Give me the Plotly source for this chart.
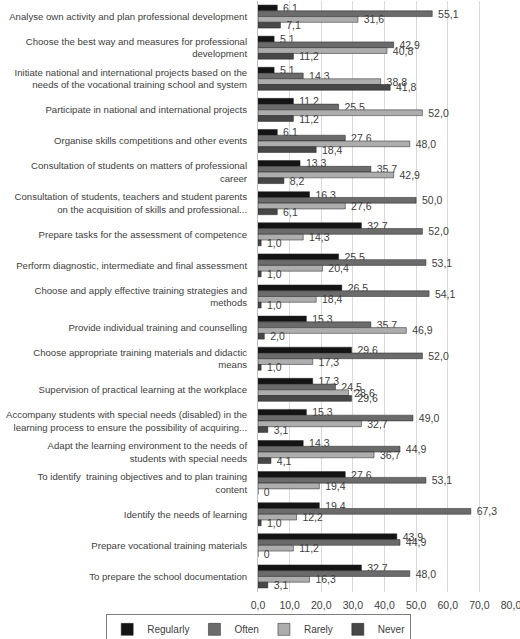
import plotly.graph_objects as go

# categories (top to bottom)
categories = [
    "Analyse own activity and plan professional development",
    "Choose the best way and measures for professional<br>development",
    "Initiate national and international projects based on the<br>needs of the vocational training school and system",
    "Participate in national and international projects",
    "Organise skills competitions and other events",
    "Consultation of students on matters of professional<br>career",
    "Consultation of students, teachers and student parents<br>on the acquisition of skills and professional...",
    "Prepare tasks for the assessment of competence",
    "Perform diagnostic, intermediate and final assessment",
    "Choose and apply effective training strategies and<br>methods",
    "Provide individual training and counselling",
    "Choose appropriate training materials and didactic<br>means",
    "Supervision of practical learning at the workplace",
    "Accompany students with special needs (disabled) in the<br>learning process to ensure the possibility of acquiring...",
    "Adapt the learning environment to the needs of<br>students with special needs",
    "To identify  training objectives and to plan training<br>content",
    "Identify the needs of learning",
    "Prepare vocational training materials",
    "To prepare the school documentation",
]

regularly = [6.1, 5.1, 5.1, 11.2, 6.1, 13.3, 16.3, 32.7, 25.5, 26.5, 15.3, 29.6, 17.3, 15.3, 14.3, 27.6, 19.4, 43.9, 32.7]
often = [55.1, 42.9, 14.3, 25.5, 27.6, 35.7, 50.0, 52.0, 53.1, 54.1, 35.7, 52.0, 24.5, 49.0, 44.9, 53.1, 67.3, 44.9, 48.0]
rarely = [31.6, 40.8, 38.8, 52.0, 48.0, 42.9, 27.6, 14.3, 20.4, 18.4, 46.9, 17.3, 28.6, 32.7, 36.7, 19.4, 12.2, 11.2, 16.3]
never = [7.1, 11.2, 41.8, 11.2, 18.4, 8.2, 6.1, 1.0, 1.0, 1.0, 2.0, 1.0, 29.6, 3.1, 4.1, 0, 1.0, 0, 3.1]

x_ticks = [0, 10, 20, 30, 40, 50, 60, 70, 80]

series = [
    ("Regularly", regularly, "#141414"),
    ("Often", often, "#6b6b6b"),
    ("Rarely", rarely, "#adadad"),
    ("Never", never, "#474747"),
]


def fmt(v):
    # comma decimals, zero shown as plain 0
    if v == 0:
        return "0"
    return f"{v:.1f}".replace(".", ",")


fig = go.Figure()
for name, vals, col in series:
    fig.add_trace(go.Bar(
        y=categories,
        x=vals,
        name=name,
        orientation="h",
        marker=dict(color=col, line=dict(color="#222222", width=0.5)),
        text=["  " + fmt(v) for v in vals],
        textposition="outside",
        textfont=dict(size=10.5, color="#404040"),
        constraintext="none",
        cliponaxis=False,
    ))

fig.update_layout(
    width=520,
    height=639,
    barmode="group",
    bargap=0.26,
    bargroupgap=0,
    plot_bgcolor="white",
    paper_bgcolor="white",
    font=dict(family="Liberation Sans, Arial", size=10, color="#404040"),
    margin=dict(l=258, r=9, t=1, b=47, autoexpand=False),
    xaxis=dict(
        range=[0, 80],
        tickvals=x_ticks,
        ticktext=["0,0" if t == 0 else fmt(t) for t in x_ticks],
        showgrid=True,
        gridcolor="#d9d9d9",
        gridwidth=1,
        zeroline=False,
        showline=False,
        automargin=False,
        ticklabeloverflow="allow",
        ticklabelstandoff=5,
        tickfont=dict(size=10.5, color="#404040"),
    ),
    yaxis=dict(
        autorange="reversed",
        showline=True,
        linecolor="#bfbfbf",
        ticks="",
        automargin=False,
        ticklabelstandoff=8,
        tickfont=dict(size=9.6, color="#404040"),
    ),
    legend=dict(
        orientation="h",
        x=-0.6,
        xanchor="left",
        y=-0.037,
        yanchor="top",
        bordercolor="#7f7f7f",
        borderwidth=1,
        font=dict(size=10, color="#404040"),
        itemwidth=30,
        traceorder="normal",
    ),
)

# drop the default 8px page margin so the figure sits at the window corner
fig.write_html("out.html", config={"displayModeBar": False},
               post_script="document.body.style.margin='0';")
